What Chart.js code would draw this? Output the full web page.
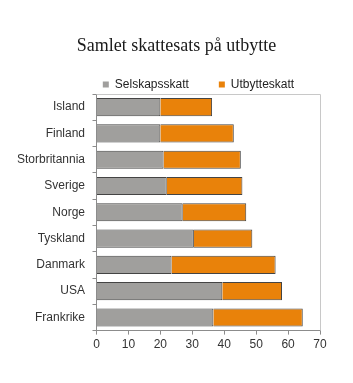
<!DOCTYPE html>
<html>
<head>
<meta charset="utf-8">
<script src="https://cdn.jsdelivr.net/npm/chart.js@4/dist/chart.umd.min.js"></script>
<style>
  html, body { margin: 0; padding: 0; background: #fff; }
  #wrap { width: 353px; height: 383px; }
</style>
</head>
<body>
<div id="wrap"><canvas id="taxChart" width="353" height="383"></canvas></div>
<script>
const countries = ["Island", "Finland", "Storbritannia", "Sverige", "Norge", "Tyskland", "Danmark", "USA", "Frankrike"];
const corporateTax = [20, 20, 21, 22, 27, 30.5, 23.5, 39.4, 36.6];
const dividendTax = [16.2, 23, 24.2, 23.7, 19.9, 18.3, 32.6, 18.7, 28];
const xTicks = [0, 10, 20, 30, 40, 50, 60, 70];

const tickFont = { family: "'Liberation Sans', Arial, sans-serif", size: 12 };
const textColor = "#333";
const axisColor = "#8c8c8c";

// shifts title/legend after layout so they sit where the reference has them
const nudgePlugin = {
  id: "nudge",
  afterLayout(chart, args, opts) {
    const moves = [[chart.titleBlock, opts.title], [chart.legend, opts.legend]];
    moves.forEach(([box, d]) => {
      if (!box || !d) return;
      box.left += d.x; box.right += d.x;
      box.top += d.y; box.bottom += d.y;
    });
  },
};

// light frame on top and right of the plot
const framePlugin = {
  id: "frame",
  beforeDatasetsDraw(chart) {
    const { ctx, chartArea: a } = chart;
    ctx.save();
    ctx.strokeStyle = "#c8c8c8";
    ctx.lineWidth = 1;
    ctx.beginPath();
    ctx.moveTo(a.left, a.top + 0.5);
    ctx.lineTo(a.right + 0.5, a.top + 0.5);
    ctx.lineTo(a.right + 0.5, a.bottom);
    ctx.stroke();
    ctx.restore();
  },
};

new Chart(document.getElementById("taxChart"), {
  type: "bar",
  data: {
    labels: countries,
    datasets: [
      {
        label: "Selskapsskatt",
        data: corporateTax,
        backgroundColor: "#a09f9d",
        borderColor: "#444",
        borderWidth: 1,
      },
      {
        label: "Utbytteskatt",
        data: dividendTax,
        backgroundColor: "#e9820a",
        borderColor: "#444",
        borderWidth: 1,
      },
    ],
  },
  options: {
    indexAxis: "y",
    responsive: false,
    animation: false,
    datasets: { bar: { categoryPercentage: 1, barPercentage: 0.69 } },
    layout: { padding: { left: 0, right: 33, top: 0, bottom: 28 } },
    plugins: {
      title: {
        display: true,
        text: "Samlet skattesats på utbytte",
        color: "#1a1a1a",
        font: { family: "'Liberation Serif', 'Times New Roman', serif", size: 18, weight: "normal" },
        padding: { top: 27, bottom: 0 },
      },
      legend: {
        position: "top",
        maxHeight: 45.4,
        labels: {
          boxWidth: 6,
          boxHeight: 6,
          padding: 30,
          color: "#222",
          font: tickFont,
          generateLabels: (chart) =>
            Chart.defaults.plugins.legend.labels
              .generateLabels(chart)
              .map((item) => ({ ...item, lineWidth: 0 })),
        },
      },
      tooltip: { enabled: false },
      nudge: { title: { x: 16.5, y: 8 }, legend: { x: 38.5, y: 0 } },
    },
    scales: {
      x: {
        stacked: true,
        min: 0,
        max: 70,
        afterBuildTicks: (scale) => {
          scale.ticks = xTicks.map((v) => ({ value: v }));
        },
        grid: { drawOnChartArea: false, tickLength: 4, color: axisColor },
        border: { color: axisColor },
        ticks: { color: textColor, font: tickFont, padding: 3 },
      },
      y: {
        stacked: true,
        afterFit: (scale) => {
          scale.width = 96.5;
        },
        grid: { drawOnChartArea: false, tickLength: 4, color: axisColor, offset: true },
        border: { color: axisColor },
        ticks: { color: textColor, font: tickFont, padding: 7.5 },
      },
    },
  },
  plugins: [nudgePlugin, framePlugin],
});
</script>
</body>
</html>
